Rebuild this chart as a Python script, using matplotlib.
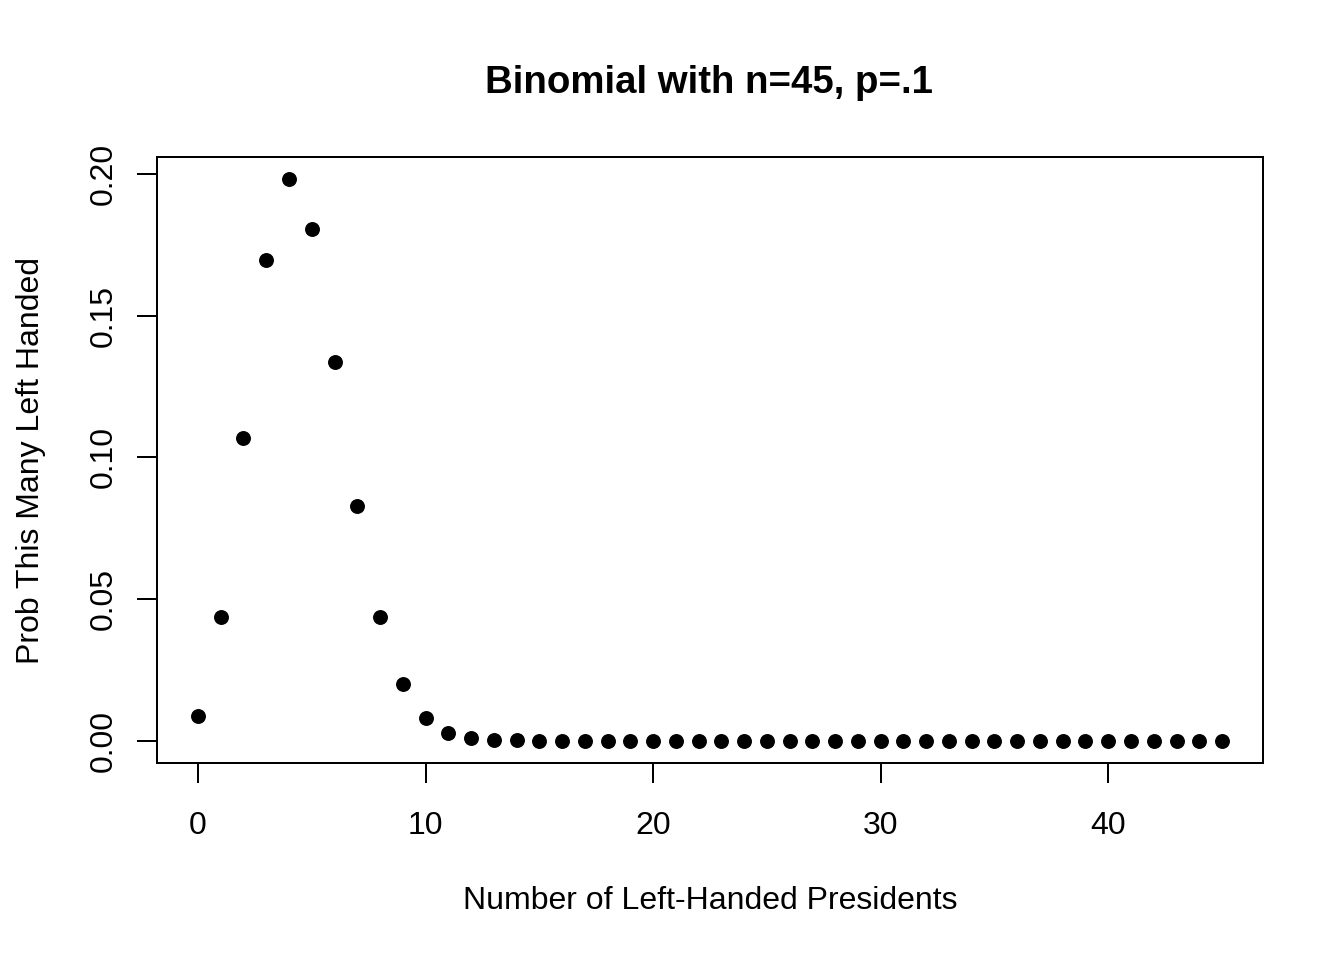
import numpy as np
import matplotlib
matplotlib.use("Agg")
import matplotlib.pyplot as plt

plt.rcParams['font.family'] = ['Liberation Sans', 'DejaVu Sans']

# values
n_left = list(range(0, 46))
prob = [0.0087, 0.0437, 0.1067, 0.1699, 0.1982, 0.1806, 0.1338, 0.0828,
        0.0437, 0.0200, 0.0080, 0.0028, 0.0009, 0.00025, 0.00006] + [0.0] * 31
x_ticks = [0, 10, 20, 30, 40]
y_ticks = [0.00, 0.05, 0.10, 0.15, 0.20]
y_tick_labels = ["0.00", "0.05", "0.10", "0.15", "0.20"]

fig = plt.figure(figsize=(7, 5), dpi=192)
ax = fig.add_axes([157/1344, 1 - 763/960, (1263-157)/1344, (763-157)/960])

ax.plot(n_left, prob, 'o', color='black', markersize=5.6, markeredgewidth=0)

# R pads the data range by 4% on each side
ax.set_xlim(-1.8, 46.8)
ymax = max(prob)
ax.set_ylim(-0.04*ymax, ymax*1.04)

ax.set_xticks(x_ticks)
ax.set_yticks(y_ticks)
ax.set_yticklabels(y_tick_labels, rotation=90, va='center')
ax.tick_params(axis='both', length=7.5, width=0.75, labelsize=12, color='black')
ax.tick_params(axis='x', pad=10.5)
ax.tick_params(axis='y', pad=7)
for s in ax.spines.values():
    s.set_linewidth(0.75)

ax.set_xlabel("Number of Left-Handed Presidents", fontsize=12, labelpad=17)
ax.set_ylabel("Prob This Many Left Handed", fontsize=12, labelpad=16)
fig.text(709/1344, 1 - 83/960, "Binomial with n=45, p=.1", fontsize=14.4,
         fontweight='bold', ha='center', va='center')

fig.savefig("out.png", dpi=192)
